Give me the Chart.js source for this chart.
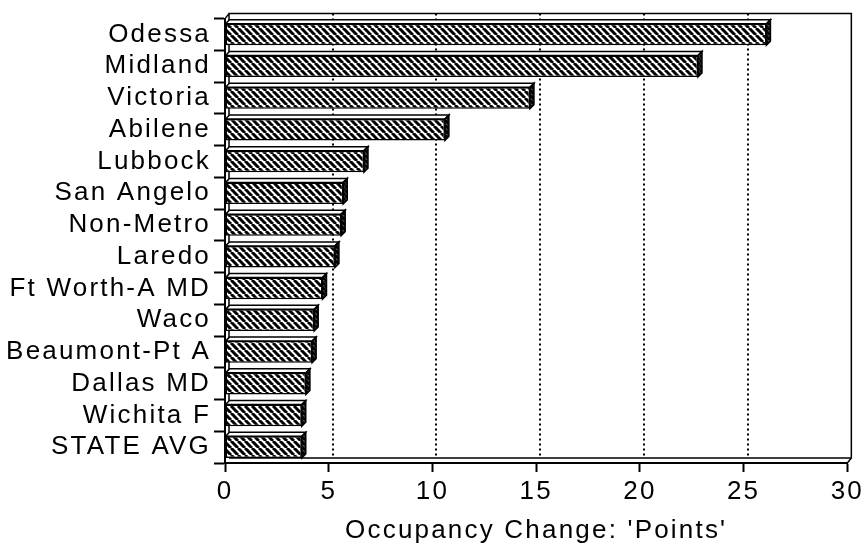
<!DOCTYPE html>
<html>
<head>
<meta charset="utf-8">
<script src="https://cdn.jsdelivr.net/npm/chart.js@4.4.1/dist/chart.umd.min.js"></script>
<style>
  html, body { margin: 0; padding: 0; background: #ffffff; }
  #wrap { width: 868px; height: 546px; }
</style>
</head>
<body>
<div id="wrap"><canvas id="c" width="868" height="546"></canvas></div>
<script>
// Occupancy change by market, in points
const markets = [
  'Odessa', 'Midland', 'Victoria', 'Abilene', 'Lubbock', 'San Angelo',
  'Non-Metro', 'Laredo', 'Ft Worth-A MD', 'Waco', 'Beaumont-Pt A',
  'Dallas MD', 'Wichita F', 'STATE AVG'
];
const occupancyChange = [26.1, 22.8, 14.7, 10.6, 6.7, 5.7, 5.6, 5.3, 4.7, 4.3, 4.2, 3.9, 3.7, 3.7];
const xTicks = [0, 5, 10, 15, 20, 25, 30];
const axisTitle = "Occupancy Change: 'Points'";

const FONT = "'Liberation Sans', Arial, Helvetica, sans-serif";
const SPACING = '2.2px';
const DX = 4, DY = -5;   // depth offset of the back wall
const BAR_DY = -4;       // depth offset of each bar's top and side faces

// diagonal hatch used to fill the bars
function hatch(bg, fg, w, s) {
  const p = document.createElement('canvas');
  p.width = s; p.height = s;
  const g = p.getContext('2d');
  g.fillStyle = bg; g.fillRect(0, 0, s, s);
  g.strokeStyle = fg; g.lineWidth = w;
  for (const o of [-s, 0, s]) {
    g.beginPath();
    g.moveTo(o, 0); g.lineTo(o + s, s);
    g.stroke();
  }
  return document.getElementById('c').getContext('2d').createPattern(p, 'repeat');
}
const frontFill = hatch('#ffffff', '#000000', 3, 7);
const sideFill = hatch('#555555', '#000000', 3, 5);

// wider letter spacing for all chart text
const spacingPlugin = {
  id: 'spacing',
  beforeInit(chart) { chart.ctx.letterSpacing = SPACING; },
  beforeLayout(chart) { chart.ctx.letterSpacing = SPACING; },
  beforeDraw(chart) { chart.ctx.letterSpacing = SPACING; }
};

// back wall, dotted grid and floor of the 3D frame
const wallPlugin = {
  id: 'wall',
  beforeDatasetsDraw(chart) {
    const { ctx, chartArea: a, scales } = chart;
    const x = scales.x;
    ctx.save();
    ctx.strokeStyle = '#000';
    ctx.lineWidth = 2;
    ctx.setLineDash([2, 3]);
    xTicks.slice(1, -1).forEach(v => {
      const px = Math.round(x.getPixelForValue(v)) + DX;
      ctx.beginPath();
      ctx.moveTo(px, a.top + DY);
      ctx.lineTo(px, a.bottom + DY);
      ctx.stroke();
    });
    ctx.setLineDash([]);
    ctx.lineWidth = 1.5;
    ctx.beginPath();
    ctx.moveTo(a.left + DX, a.bottom + DY);
    ctx.lineTo(a.left + DX, a.top + DY);
    ctx.lineTo(a.right + DX, a.top + DY);
    ctx.lineTo(a.right + DX, a.bottom + DY);
    ctx.lineTo(a.left + DX, a.bottom + DY);
    ctx.moveTo(a.right + DX, a.bottom + DY);
    ctx.lineTo(a.right, a.bottom);
    ctx.moveTo(a.left, a.top);
    ctx.lineTo(a.left + DX, a.top + DY);
    ctx.stroke();
    ctx.restore();
  },
  afterDatasetsDraw(chart) {
    const { ctx } = chart;
    const meta = chart.getDatasetMeta(0);
    ctx.save();
    ctx.strokeStyle = '#000';
    ctx.lineWidth = 1.5;
    meta.data.forEach(bar => {
      const p = bar.getProps(['x', 'y', 'base', 'height'], true);
      const top = p.y - p.height / 2, bot = p.y + p.height / 2;
      const x0 = p.base, x1 = p.x;
      // top face
      ctx.beginPath();
      ctx.moveTo(x0, top);
      ctx.lineTo(x0 + DX, top + BAR_DY);
      ctx.lineTo(x1 + DX, top + BAR_DY);
      ctx.lineTo(x1, top);
      ctx.closePath();
      ctx.fillStyle = '#ffffff';
      ctx.fill();
      ctx.stroke();
      // side face
      ctx.beginPath();
      ctx.moveTo(x1, top);
      ctx.lineTo(x1 + DX, top + BAR_DY);
      ctx.lineTo(x1 + DX, bot + BAR_DY);
      ctx.lineTo(x1, bot);
      ctx.closePath();
      ctx.fillStyle = sideFill;
      ctx.fill();
      ctx.stroke();
    });
    ctx.restore();
  }
};

const textFont = { family: FONT, size: 26 };

new Chart(document.getElementById('c'), {
  type: 'bar',
  data: {
    labels: markets,
    datasets: [{
      data: occupancyChange,
      backgroundColor: frontFill,
      borderColor: '#000000',
      borderWidth: 1.5,
      borderSkipped: false,
      barPercentage: 0.68,
      categoryPercentage: 1.0
    }]
  },
  options: {
    indexAxis: 'y',
    responsive: false,
    animation: false,
    devicePixelRatio: 1,
    layout: { padding: { top: 12, right: 18, left: 0, bottom: 0 } },
    plugins: {
      legend: { display: false },
      tooltip: { enabled: false }
    },
    scales: {
      x: {
        type: 'linear',
        min: 0,
        max: 30,
        afterBuildTicks(scale) { scale.ticks = xTicks.map(v => ({ value: v })); },
        afterFit(scale) { scale.height = 83; },
        grid: {
          display: true,
          drawOnChartArea: false,
          drawTicks: true,
          tickLength: 9,
          tickWidth: 2,
          tickColor: '#000'
        },
        border: { display: true, color: '#000', width: 2 },
        ticks: {
          color: '#000',
          padding: 4,
          maxRotation: 0,
          font: textFont
        },
        title: {
          display: true,
          text: axisTitle,
          color: '#000',
          padding: { top: 1, bottom: 0 },
          font: textFont
        }
      },
      y: {
        afterFit(scale) { scale.width = 225; },
        grid: {
          display: true,
          offset: true,
          drawOnChartArea: false,
          drawTicks: true,
          tickLength: 11,
          tickWidth: 2,
          tickColor: '#000'
        },
        border: { display: true, color: '#000', width: 2 },
        ticks: {
          color: '#000',
          padding: 3,
          autoSkip: false,
          font: textFont
        }
      }
    }
  },
  plugins: [spacingPlugin, wallPlugin]
});
</script>
</body>
</html>
